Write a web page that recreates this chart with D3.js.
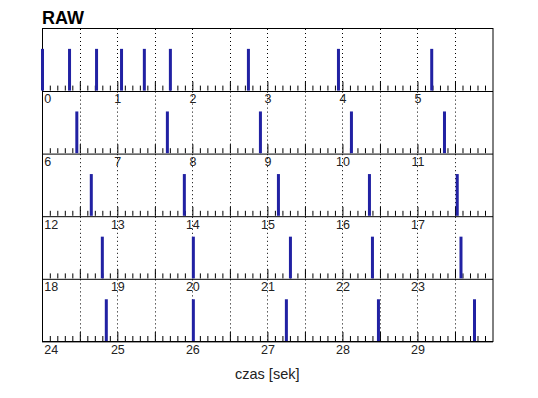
<!DOCTYPE html>
<html><head><meta charset="utf-8">
<script src="https://cdn.jsdelivr.net/npm/d3@7"></script>
<style>body{margin:0;background:#fff}svg{display:block}</style>
</head><body><svg id="c" width="538" height="398"></svg>
<script>
const title = "RAW";
const xLabel = "czas [sek]";
const rowStarts = [0, 6, 12, 18, 24];
const rowSpan = 6;
const spikeTimes = [0.0, 0.363, 0.723, 1.056, 1.36, 1.707, 2.747, 3.947, 5.19,
  6.46, 7.667, 8.907, 10.12, 11.36,
  12.653, 13.893, 15.147, 16.36, 17.53,
  18.8, 20.013, 21.307, 22.4, 23.58,
  24.853, 26.013, 27.253, 28.48, 29.76];
const spikeValues = spikeTimes.map(() => 1);

const svg = d3.select("#c");
const L = 42, R = 492.5, T = 28, B = 341;
const rowH = (B - T) / rowStarts.length;
const x = d3.scaleLinear().domain([0, rowSpan]).range([L + 0.3, R]);
const y = d3.scaleLinear().domain([0, 1.5]).range([rowH, 0]);

svg.append("text").attr("x", 42).attr("y", 24).text(title)
  .attr("font-family", "Liberation Sans, Arial, sans-serif")
  .attr("font-weight", "bold").attr("font-size", 18).attr("fill", "#000");

svg.append("rect").attr("x", L + 0.5).attr("y", T + 0.5).attr("width", R - L).attr("height", B - T)
  .attr("fill", "none").attr("stroke", "#000");

rowStarts.forEach((s, i) => {
  const g = svg.append("g").attr("transform", `translate(0,${T + i * rowH})`);
  const half = d3.range(1, 12).map(k => k * 0.5);
  g.selectAll("line.grid").data(half).enter().append("line")
    .attr("x1", d => Math.round(x(d)) + 0.5).attr("x2", d => Math.round(x(d)) + 0.5)
    .attr("y1", 1).attr("y2", rowH)
    .attr("stroke", "#000").attr("stroke-width", 1).attr("stroke-dasharray", "1,3");
  const axG = g.append("g").attr("transform", `translate(0,${rowH})`);
  const minor = d3.range(1, 60).map(k => k / 10).filter(v => Math.abs(v * 2 - Math.round(v * 2)) > 1e-6);
  axG.append("g").call(d3.axisBottom(x).tickValues(minor).tickSize(-5).tickFormat(""))
    .call(a => a.select(".domain").remove())
    .call(a => a.selectAll("line").attr("stroke", "#000"));
  axG.append("g").call(d3.axisBottom(x).tickValues(half).tickSize(-9).tickFormat(""))
    .call(a => a.select(".domain").remove())
    .call(a => a.selectAll("line").attr("stroke", "#000"));
  const lab = axG.append("g").call(d3.axisBottom(x).tickValues(d3.range(0, 6)).tickSize(0).tickPadding(4)
      .tickFormat(d => String(d + s)))
    .call(a => a.select(".domain").remove());
  lab.selectAll("text").attr("font-family", "Liberation Sans, Arial, sans-serif")
    .attr("font-size", 12.5).attr("fill", "#222");
  lab.selectAll(".tick").filter(d => d === 0).select("text").attr("text-anchor", "start").attr("x", 1.5);
  g.append("line").attr("x1", L).attr("x2", R + 0.5).attr("y1", Math.round(rowH) + 0.5).attr("y2", Math.round(rowH) + 0.5)
    .attr("stroke", "#000");
  // spikes on top
  const pts = spikeTimes.map((t, j) => ({t, v: spikeValues[j]})).filter(d => d.t >= s && d.t < s + rowSpan);
  g.selectAll("rect.sp").data(pts).enter().append("rect")
    .attr("x", d => Math.max(L - 1, x(d.t - s) - 1.5)).attr("width", 3)
    .attr("y", d => y(d.v)).attr("height", d => rowH - y(d.v))
    .attr("fill", "#2121a3");
});

svg.append("text").attr("x", (L + R) / 2).attr("y", 379).attr("text-anchor", "middle")
  .attr("font-family", "Liberation Sans, Arial, sans-serif").attr("font-size", 14.5).attr("fill", "#222").text(xLabel);
</script></body></html>
